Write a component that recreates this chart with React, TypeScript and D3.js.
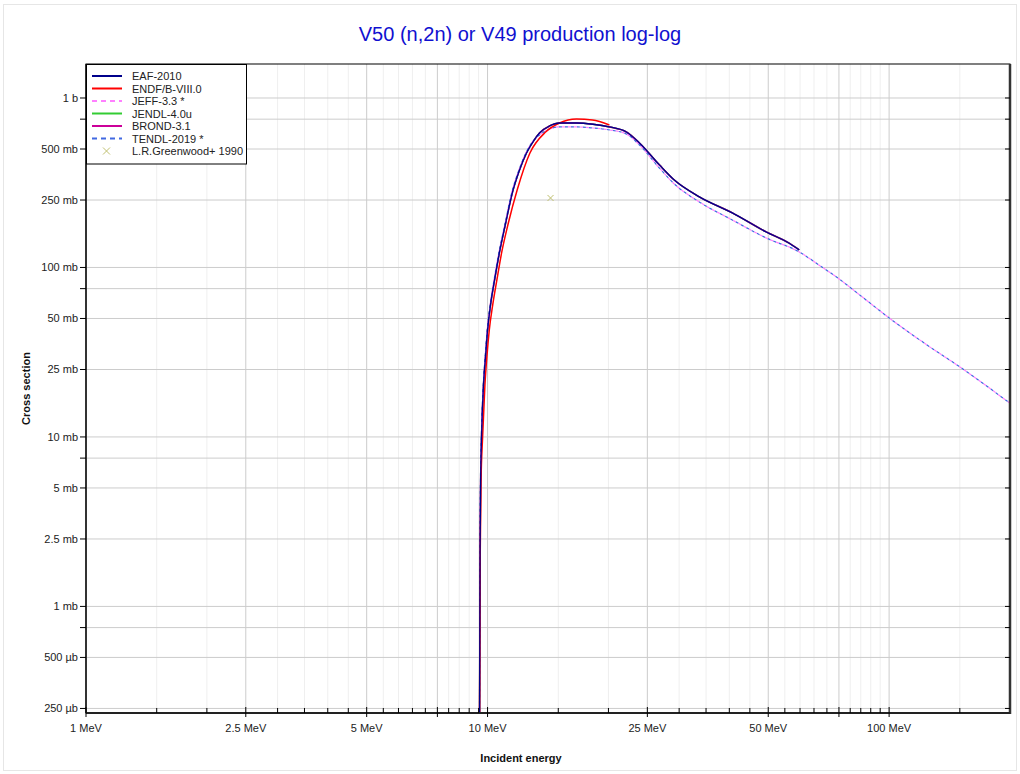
import React from "react";
import * as d3 from "d3";

// ---- data (energy in MeV, cross section in barns) ----
const eafE = [9.55, 9.58, 9.61, 9.66, 9.77, 9.89, 10.0, 10.17, 10.41, 10.71, 11.08, 11.54, 12.01, 12.5, 13.01, 13.47, 14.27, 15.11, 16.65, 18.3, 20.11, 22.17, 23.89, 26.79, 29.18, 33.68, 40.69, 49.43, 56.39, 59.72];
const eafS = [2.0e-4, 2.15e-3, 5.35e-3, 0.01, 0.0203, 0.0305, 0.0428, 0.0601, 0.0844, 0.1235, 0.1805, 0.279, 0.376, 0.474, 0.557, 0.622, 0.684, 0.712, 0.712, 0.7, 0.675, 0.63, 0.543, 0.403, 0.328, 0.261, 0.21, 0.162, 0.139, 0.127];

const endfE = [9.55, 9.59, 9.63, 9.72, 9.85, 9.97, 10.1, 10.3, 10.55, 10.85, 11.25, 11.85, 12.75, 13.95, 15.11, 16.65, 18.25, 20.11];
const endfS = [2.0e-4, 2.15e-3, 5.35e-3, 0.01, 0.0203, 0.0305, 0.0428, 0.0601, 0.0844, 0.1235, 0.1805, 0.2867, 0.474, 0.63, 0.712, 0.752, 0.742, 0.693];

const jeffE = [9.55, 9.57, 9.6, 9.65, 9.76, 9.87, 9.98, 10.15, 10.38, 10.68, 11.05, 11.5, 11.97, 12.46, 12.98, 13.47, 14.27, 15.11, 16.65, 18.3, 20.11, 22.17, 23.89, 26.79, 29.18, 33.68, 40.69, 49.43, 59.72, 66.95, 75.09, 85.65, 100, 125.8, 149.3, 200];
const jeffS = [2.0e-4, 2.15e-3, 5.35e-3, 0.01, 0.0203, 0.0305, 0.0428, 0.0601, 0.0844, 0.1235, 0.1805, 0.279, 0.376, 0.474, 0.557, 0.605, 0.656, 0.675, 0.675, 0.665, 0.648, 0.613, 0.528, 0.386, 0.311, 0.2435, 0.1906, 0.1493, 0.1235, 0.1032, 0.0855, 0.0671, 0.0504, 0.0342, 0.0261, 0.0158];

const tendlE = jeffE;
const tendlS = jeffS;

// JENDL-4.0u and BROND-3.1 lie under EAF-2010 in the picture
const jendlE = eafE;
const jendlS = eafS;
const brondE = eafE;
const brondS = eafS;

const expE = [14.35];
const expS = [0.257];

const xMajor = [1, 2.5, 5, 7.5, 10, 25, 50, 75, 100];
const xLabels = ["1 MeV", "2.5 MeV", "5 MeV", "", "10 MeV", "25 MeV", "50 MeV", "", "100 MeV"];
const xMinor = [1.5, 2, 3, 3.5, 4, 4.5, 5.5, 6, 6.5, 7, 8, 8.5, 9, 9.5, 15, 20, 30, 35, 40, 45, 55, 60, 65, 70, 80, 85, 90, 95, 150];
const yMajor = [1, 0.75, 0.5, 0.25, 0.1, 0.075, 0.05, 0.025, 0.01, 0.0075, 0.005, 0.0025, 0.001, 0.00075, 0.0005, 0.00025];
const yLabels = ["1 b", "", "500 mb", "250 mb", "100 mb", "", "50 mb", "25 mb", "10 mb", "", "5 mb", "2.5 mb", "1 mb", "", "500 µb", "250 µb"];

const seriesNames = ["EAF-2010", "ENDF/B-VIII.0", "JEFF-3.3 *", "JENDL-4.0u", "BROND-3.1", "TENDL-2019 *", "L.R.Greenwood+ 1990"];
const seriesColors = ["#00008b", "#ff0000", "#ff80ff", "#33cc33", "#cc0099", "#4169e1", "#c0c070"];

const L = 86, R = 1010, T = 64, B = 713;
const FONT = "Arial, 'Liberation Sans', sans-serif";

export default function App() {
  const x = d3.scaleLog().domain([1, 200]).range([L, R]);
  const y = d3.scaleLog().domain([2.35e-4, 1.587]).range([B, T]);
  const line = (es: number[], ss: number[]) =>
    d3.line<number>().x((_, i) => x(es[i])).y((_, i) => y(ss[i])).curve(d3.curveMonotoneX)(es as any) || "";

  const curves = [
    { e: jendlE, s: jendlS, c: seriesColors[3], w: 1.5, dash: undefined, off: 0 },
    { e: brondE, s: brondS, c: seriesColors[4], w: 1.5, dash: undefined, off: 0 },
    { e: tendlE, s: tendlS, c: seriesColors[5], w: 1.2, dash: "3,3", off: 3 },
    { e: jeffE, s: jeffS, c: seriesColors[2], w: 1.2, dash: "3,3", off: 0 },
    { e: endfE, s: endfS, c: seriesColors[1], w: 1.5, dash: undefined, off: 0 },
    { e: eafE, s: eafS, c: seriesColors[0], w: 1.3, dash: undefined, off: 0 },
  ];

  return (
    <svg width={1020} height={774} style={{ position: "absolute", left: 0, top: 0 }} fontFamily={FONT}>
      <rect x={0} y={0} width={1020} height={774} fill="#fff" />
      <rect x={3.5} y={4.5} width={1013} height={766} fill="none" stroke="#e6e6e6" />
      <defs>
        <clipPath id="plot">
          <rect x={L} y={T} width={R - L} height={B - T} />
        </clipPath>
      </defs>
      <text x={520} y={41} textAnchor="middle" fontSize={20} fill="#1010d0">V50 (n,2n) or V49 production log-log</text>

      {/* grid */}
      {xMinor.map((v) => (
        <line key={"xm" + v} x1={x(v)} x2={x(v)} y1={T} y2={B} stroke="#efefef" />
      ))}
      {xMajor.map((v) => (
        <line key={"xM" + v} x1={x(v)} x2={x(v)} y1={T} y2={B} stroke="#cccccc" />
      ))}
      {yMajor.map((v) => (
        <line key={"yM" + v} x1={L} x2={R} y1={y(v)} y2={y(v)} stroke="#cccccc" />
      ))}

      {/* curves */}
      <g clipPath="url(#plot)">
        {curves.map((c, i) => (
          <path key={i} d={line(c.e, c.s)} fill="none" stroke={c.c} strokeWidth={c.w} strokeDasharray={c.dash} strokeDashoffset={c.off} />
        ))}
        {expE.map((e, i) => {
          const cx = x(e), cy = y(expS[i]);
          return (
            <g key={"exp" + i} stroke={seriesColors[6]} strokeWidth={1}>
              <line x1={cx - 3} x2={cx + 3} y1={cy - 3} y2={cy + 3} />
              <line x1={cx - 3} x2={cx + 3} y1={cy + 3} y2={cy - 3} />
            </g>
          );
        })}
      </g>

      {/* frame */}
      <rect x={L} y={T} width={R - L} height={B - T} fill="none" stroke="#000" strokeWidth={1} />
      <line x1={R} x2={R} y1={T} y2={B + 1} stroke="#333" strokeWidth={2.5} />
      <line x1={L} x2={R} y1={B} y2={B} stroke="#222" strokeWidth={1.8} />
      <line x1={L} x2={L} y1={T} y2={B} stroke="#222" strokeWidth={1.6} />

      {/* x ticks */}
      {xMinor.map((v) => (
        <line key={"xt" + v} x1={x(v)} x2={x(v)} y1={B - 5} y2={B} stroke="#000" />
      ))}
      {xMajor.map((v, i) => (
        <g key={"xT" + v}>
          <line x1={x(v)} x2={x(v)} y1={B - 6} y2={B + 4} stroke="#000" />
          <text x={x(v)} y={732} textAnchor="middle" fontSize={11} fill="#222">{xLabels[i]}</text>
        </g>
      ))}
      {/* y ticks */}
      {yMajor.map((v, i) => (
        <g key={"yT" + v}>
          <line x1={L - 6} x2={L} y1={y(v)} y2={y(v)} stroke="#000" />
          <line x1={R - 5} x2={R} y1={y(v)} y2={y(v)} stroke="#000" />
          <text x={L - 8} y={y(v) + 4} textAnchor="end" fontSize={11} fill="#222">{yLabels[i]}</text>
        </g>
      ))}

      <text x={521} y={762} textAnchor="middle" fontSize={11} fontWeight="bold" fill="#111">Incident energy</text>
      <text transform={`translate(30,${(T + B) / 2}) rotate(-90)`} textAnchor="middle" fontSize={11} fontWeight="bold" fill="#111">Cross section</text>

      {/* legend */}
      <g>
        <rect x={86.5} y={64.5} width={160} height={99.5} fill="#fff" stroke="#000" />
        {seriesNames.map((n, i) => {
          const yy = 76 + i * 12.5;
          return (
            <g key={n}>
              {i < 6 ? (
                <line x1={92} x2={122} y1={yy} y2={yy} stroke={seriesColors[i]} strokeWidth={2}
                  strokeDasharray={i === 2 || i === 5 ? "5,4" : undefined} />
              ) : (
                <g stroke={seriesColors[i]}>
                  <line x1={103} x2={110} y1={yy - 3.5} y2={yy + 3.5} />
                  <line x1={103} x2={110} y1={yy + 3.5} y2={yy - 3.5} />
                </g>
              )}
              <text x={132} y={yy + 4} fontSize={11} fill="#222">{n}</text>
            </g>
          );
        })}
      </g>
    </svg>
  );
}
